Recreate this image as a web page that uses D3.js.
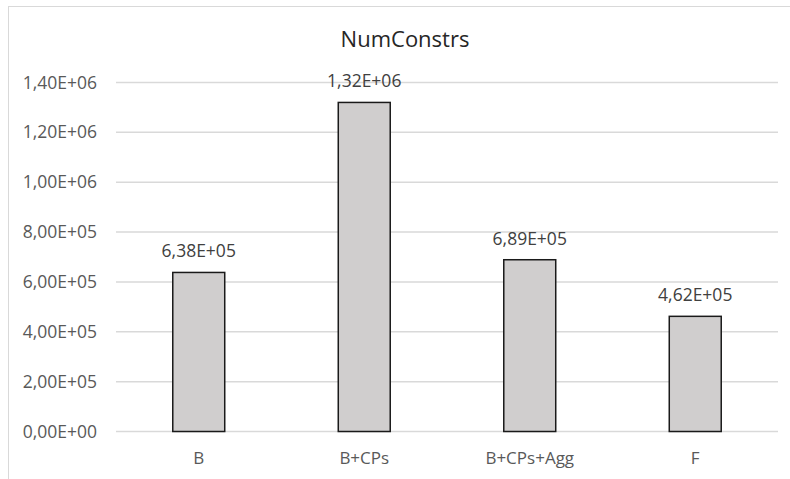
<!DOCTYPE html>
<html>
<head>
<meta charset="utf-8">
<script src="https://cdn.jsdelivr.net/npm/d3@7"></script>
<style>
  body { margin: 0; background: #fff; }
  text { font-family: "Open Sans", "Liberation Sans", sans-serif; }
</style>
</head>
<body>
<div id="chart"></div>
<script>
var categories = ["B", "B+CPs", "B+CPs+Agg", "F"];
var values = [638000, 1320000, 689000, 462000];
var valueLabels = ["6,38E+05", "1,32E+06", "6,89E+05", "4,62E+05"];
var yTicks = [0, 200000, 400000, 600000, 800000, 1000000, 1200000, 1400000];
var yTickLabels = ["0,00E+00", "2,00E+05", "4,00E+05", "6,00E+05", "8,00E+05", "1,00E+06", "1,20E+06", "1,40E+06"];
var title = "NumConstrs";

var w = 790;
var h = 479;
var margin = {left: 116, right: 12, top: 83, bottom: 47};

var svg = d3.select("#chart")
    .append("svg")
    .attr("width", w)
    .attr("height", h);

// chart border
svg.append("rect")
    .attr("x", 8.5)
    .attr("y", 6.5)
    .attr("width", w)
    .attr("height", h)
    .attr("fill", "none")
    .attr("stroke", "#d9d9d9");

var x = d3.scaleBand()
    .domain(categories)
    .range([margin.left, w - margin.right])
    .paddingInner(0.686)
    .paddingOuter(0.343);

var y = d3.scaleLinear()
    .domain([0, 1400000])
    .range([h - margin.bottom - 0.5, margin.top - 0.5]);

// gridlines
svg.append("g")
    .selectAll("line")
    .data(yTicks)
    .enter()
    .append("line")
    .attr("x1", margin.left)
    .attr("x2", w - margin.right)
    .attr("y1", function(d) { return y(d); })
    .attr("y2", function(d) { return y(d); })
    .attr("stroke", "#d9d9d9")
    .attr("stroke-width", 1.5);

// y axis labels
var yAxis = d3.axisLeft(y)
    .tickValues(yTicks)
    .tickFormat(function(d, i) { return yTickLabels[i]; })
    .tickSize(0)
    .tickPadding(19);

svg.append("g")
    .attr("transform", "translate(" + margin.left + ",0)")
    .call(yAxis)
    .call(function(g) { g.select(".domain").remove(); })
    .selectAll("text")
    .attr("fill", "#595959")
    .style("font-size", "17.5px")
    .style("font-family", "'Open Sans', sans-serif");

// x axis labels
var xAxis = d3.axisBottom(x).tickSize(0).tickPadding(20);
svg.append("g")
    .attr("transform", "translate(0," + (h - margin.bottom) + ")")
    .call(xAxis)
    .call(function(g) { g.select(".domain").remove(); })
    .selectAll("text")
    .attr("fill", "#595959")
    .style("font-size", "17px")
    .style("font-family", "'Open Sans', sans-serif");

// bars
svg.append("g")
    .selectAll("rect")
    .data(values)
    .enter()
    .append("rect")
    .attr("x", function(d, i) { return x(categories[i]); })
    .attr("y", function(d) { return y(d); })
    .attr("width", x.bandwidth())
    .attr("height", function(d) { return y(0) - y(d); })
    .attr("fill", "#d0cece")
    .attr("stroke", "#1a1a1a")
    .attr("stroke-width", 1.5);

// value labels
svg.append("g")
    .selectAll("text")
    .data(values)
    .enter()
    .append("text")
    .attr("x", function(d, i) { return x(categories[i]) + x.bandwidth() / 2; })
    .attr("y", function(d) { return y(d) - 15; })
    .attr("text-anchor", "middle")
    .attr("fill", "#404040")
    .style("font-size", "17.5px")
    .text(function(d, i) { return valueLabels[i]; });

// title
svg.append("text")
    .attr("x", 405)
    .attr("y", 47)
    .attr("text-anchor", "middle")
    .attr("fill", "#262626")
    .style("font-size", "22px")
    .text(title);
</script>
</body>
</html>
